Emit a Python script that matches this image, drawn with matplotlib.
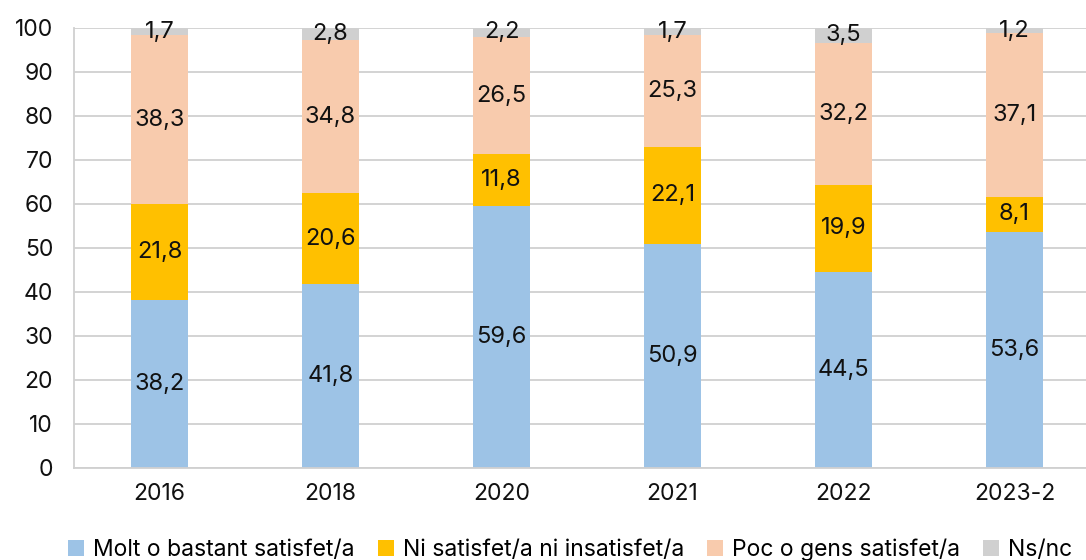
import matplotlib
matplotlib.use("Agg")
import matplotlib.pyplot as plt
import numpy as np

categories = ["2016", "2018", "2020", "2021", "2022", "2023-2"]
series_names = ["Molt o bastant satisfet/a", "Ni satisfet/a ni insatisfet/a",
                "Poc o gens satisfet/a", "Ns/nc"]
molt = [38.2, 41.8, 59.6, 50.9, 44.5, 53.6]
ni = [21.8, 20.6, 11.8, 22.1, 19.9, 8.1]
poc = [38.3, 34.8, 26.5, 25.3, 32.2, 37.1]
nsnc = [1.7, 2.8, 2.2, 1.7, 3.5, 1.2]
colors = ["#9DC3E6", "#FFC000", "#F8CBAD", "#D0D0D0"]

plt.rcParams['font.family'] = ['Inter', 'DejaVu Sans']
fig = plt.figure(figsize=(10.86, 5.6), dpi=100)
ax = fig.add_axes([74/1086, 92/560, 1 - 74/1086, 440/560])

x = np.arange(len(categories))
bottom = np.zeros(len(categories))
handles = []
for name, vals, c in zip(series_names, [molt, ni, poc, nsnc], colors):
    vals = np.array(vals)
    b = ax.bar(x, vals, 0.333, bottom=bottom, color=c, label=name, zorder=2)
    handles.append(b)
    for xi, v, bt in zip(x, vals, bottom):
        ax.text(xi, bt + v / 2, f"{v:.1f}".replace(".", ","), ha="center",
                va="center", fontsize=17, color="#111111", zorder=3)
    bottom += vals

ax.set_ylim(0, 100)
ax.set_xlim(-0.5, 5.418)
ax.set_yticks(range(0, 101, 10))
ax.set_xticks(x)
ax.set_xticklabels(categories)
ax.tick_params(axis="both", length=0, labelsize=16.5, colors="#111111")
ax.tick_params(axis="y", pad=15)
ax.tick_params(axis="x", pad=11)
ax.yaxis.grid(True, color="#D0D0D0", linewidth=1.3, zorder=0)
ax.set_axisbelow(True)
for s in ["top", "right"]:
    ax.spines[s].set_visible(False)
for s in ["left", "bottom"]:
    ax.spines[s].set_color("#D0D0D0")
    ax.spines[s].set_linewidth(1.3)

fig.legend(handles=handles, loc="center", bbox_to_anchor=(0.525, 10/560),
           ncol=4, frameon=False, fontsize=16.5, handlelength=0.7,
           handleheight=0.7, handletextpad=0.4, columnspacing=1.0)

fig.savefig("out.png", dpi=100)
